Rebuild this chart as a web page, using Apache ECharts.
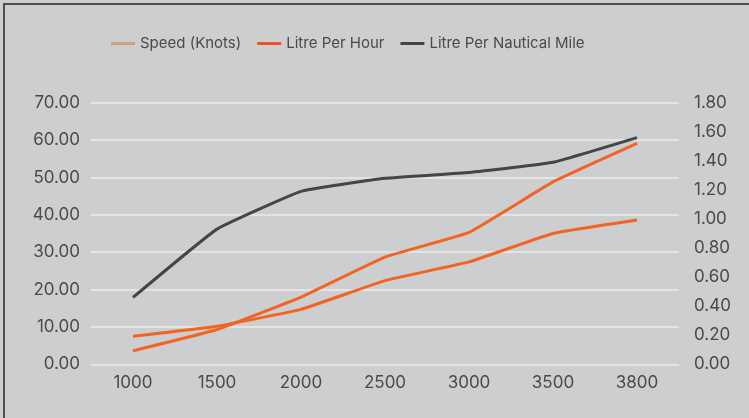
<!DOCTYPE html>
<html>
<head>
<meta charset="utf-8">
<script src="https://cdn.jsdelivr.net/npm/echarts@6/dist/echarts.min.js"></script>
<style>
html,body{margin:0;padding:0;background:#a8a9aa;}
#wrap{position:absolute;left:0;top:0;width:749px;height:418px;background:#cdcecf;}
#bt{position:absolute;left:3px;top:3px;width:746px;height:2px;background:#4d4e50;}
#bl{position:absolute;left:3px;top:3px;width:2px;height:415px;background:#4d4e50;}
#chart{position:absolute;left:0;top:0;width:749px;height:418px;}
</style>
</head>
<body>
<div id="wrap"><div id="chart"></div><div id="bt"></div><div id="bl"></div></div>
<script>
const categories = ['1000','1500','2000','2500','3000','3500','3800'];
const speedKnots = [7.5, 10.2, 14.7, 22.4, 27.4, 35.0, 38.6];
const litrePerHour = [3.6, 9.3, 18.0, 28.7, 35.3, 48.8, 59.1];
const litrePerNauticalMile = [0.46, 0.93, 1.19, 1.28, 1.32, 1.39, 1.56];
const seriesNames = ['Speed (Knots)', 'Litre Per Hour', 'Litre Per Nautical Mile'];

const FONT = 'Inter';
const TXT = '#4a4a4a';
const chart = echarts.init(document.getElementById('chart'));
chart.setOption({
  backgroundColor: 'transparent',
  animation: false,
  textStyle: {fontFamily: FONT},
  legend: {
    left: 106, top: 31,
    icon: 'rect',
    itemWidth: 24, itemHeight: 3, itemGap: 16,
    textStyle: {color: TXT, fontSize: 15, fontFamily: FONT},
    data: [
      {name: seriesNames[0], itemStyle: {color: '#d3a07c'}},
      {name: seriesNames[1], itemStyle: {color: '#ec5428'}},
      {name: seriesNames[2], itemStyle: {color: '#444547'}}
    ]
  },
  grid: {left: 91, right: 70, top: 102.7, bottom: 53.7},
  xAxis: {
    type: 'category', data: categories, boundaryGap: true,
    axisLine: {show: false}, axisTick: {show: false},
    axisLabel: {color: TXT, fontSize: 17, margin: 10, fontFamily: FONT}
  },
  yAxis: [
    {type: 'value', min: 0, max: 70, interval: 10,
     axisLine: {show: false}, axisTick: {show: false},
     splitLine: {lineStyle: {color: '#ebebeb', width: 1.5}},
     axisLabel: {color: TXT, fontSize: 17, margin: 11, fontFamily: FONT, formatter: v => v.toFixed(2)}},
    {type: 'value', min: 0, max: 1.8, interval: 0.2,
     axisLine: {show: false}, axisTick: {show: false}, splitLine: {show: false},
     axisLabel: {color: TXT, fontSize: 17, margin: 15, fontFamily: FONT, formatter: v => v.toFixed(2)}}
  ],
  series: [
    {name: seriesNames[0], type: 'line', data: speedKnots, yAxisIndex: 0, symbol: 'none', smooth: 0.1,
     lineStyle: {color: '#f26424', width: 3}, itemStyle: {color: '#f26424'}},
    {name: seriesNames[1], type: 'line', data: litrePerHour, yAxisIndex: 0, symbol: 'none', smooth: 0.1,
     lineStyle: {color: '#f26424', width: 3}, itemStyle: {color: '#f26424'}},
    {name: seriesNames[2], type: 'line', data: litrePerNauticalMile, yAxisIndex: 1, symbol: 'none', smooth: 0.1,
     lineStyle: {color: '#444547', width: 3}, itemStyle: {color: '#444547'}}
  ]
});
</script>
</body>
</html>
